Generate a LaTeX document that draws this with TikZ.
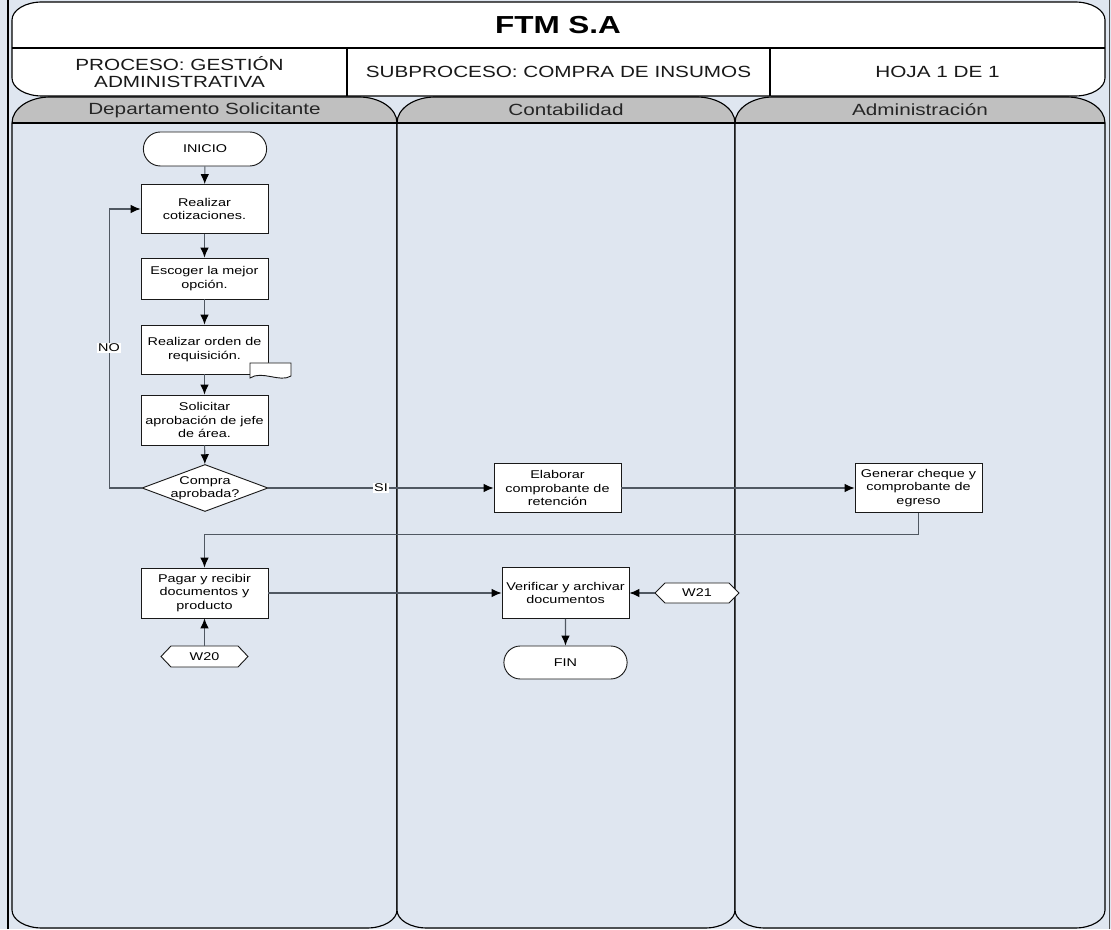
\documentclass[tikz,border=0pt]{standalone}
\usepackage{fontspec}
\setmainfont{Liberation Sans}[FakeStretch=1.28]
\usetikzlibrary{arrows.meta,shapes.misc,shapes.geometric,calc}
\definecolor{bgblue}{RGB}{223,230,240}
\definecolor{bandgray}{RGB}{192,192,192}
\definecolor{linegray}{RGB}{80,88,98}
\newcommand\nfont{\fontsize{8}{9.4}\selectfont}
\newcommand\hfont{\fontsize{11.5}{12.5}\selectfont}
\newcommand\swimlane[4]{%
  \fill[bgblue] (#1,806) arc[start angle=180,end angle=90,x radius=38,y radius=26] -- (#2-38,832) arc[start angle=90,end angle=0,x radius=38,y radius=26] -- (#2,19) arc[start angle=0,end angle=-90,x radius=30,y radius=18] -- (#1+30,1) arc[start angle=270,end angle=180,x radius=30,y radius=18] -- cycle;
  \fill[bandgray] (#1,806) arc[start angle=180,end angle=90,x radius=38,y radius=26] -- (#2-38,832) arc[start angle=90,end angle=0,x radius=38,y radius=26] -- cycle;
  \draw[laneline] (#1,806) -- (#2,806);
  \draw[laneline] (#1,806) arc[start angle=180,end angle=90,x radius=38,y radius=26] -- (#2-38,832) arc[start angle=90,end angle=0,x radius=38,y radius=26] -- (#2,19) arc[start angle=0,end angle=-90,x radius=30,y radius=18] -- (#1+30,1) arc[start angle=270,end angle=180,x radius=30,y radius=18] -- cycle;
  \node[lanelbl] (#3) at ({(#1+#2)/2},819) {#4};
}
\begin{document}
\begin{tikzpicture}[x=0.025cm,y=0.025cm,
  laneline/.style={draw=black,line width=0.8pt},
  lanelbl/.style={font=\hfont,text=black!85,inner sep=0pt},
  hdr/.style={font=\hfont,text=black!90,align=center,inner sep=0pt},
  proc/.style={draw=black!90,fill=white,line width=0.65pt,minimum width=3.175cm,inner sep=1pt,align=center,font=\nfont},
  term/.style={rounded rectangle,draw=black!90,fill=white,line width=0.65pt,minimum width=3.15cm,minimum height=0.85cm,inner sep=1pt,font=\nfont},
  shapeline/.style={draw=black!90,fill=white,line width=0.65pt},
  txt/.style={align=center,font=\nfont,inner sep=0pt},
  hexlbl/.style={font=\nfont,minimum width=2.175cm,minimum height=0.525cm,inner sep=0pt},
  lbl/.style={fill=white,font=\nfont,inner sep=1pt},
  arr/.style={-{Latex[length=7pt,width=6pt,color=black]},draw=linegray,line width=0.75pt}]
\useasboundingbox (0,0) rectangle (1111,929);
\fill[bgblue] (0,0) rectangle (1111,929);
\draw[black,line width=0.9pt] (8,0) -- (8,929);
\draw[black!70,line width=0.6pt] (1109,0) -- (1109,929);
% lanes
\swimlane{12}{397}{l1}{Departamento Solicitante}
\swimlane{397}{735}{l2}{Contabilidad}
\swimlane{735}{1105}{l3}{Administración}
% header
\draw[fill=white,line width=0.8pt] (12,851) -- (12,909) arc[start angle=180,end angle=90,x radius=30,y radius=18] -- (1075,927) arc[start angle=90,end angle=0,x radius=30,y radius=18] -- (1105,851) arc[start angle=0,end angle=-90,x radius=30,y radius=18] -- (42,833) arc[start angle=270,end angle=180,x radius=30,y radius=18] -- cycle;
\draw[line width=0.8pt] (12,881) -- (1105,881);
\draw[line width=0.8pt] (347,881) -- (347,833);
\draw[line width=0.8pt] (770,881) -- (770,833);
\node[font=\bfseries\fontsize{17.5}{20}\selectfont,inner sep=0pt] (title) at (558,904) {FTM S.A};
\node[hdr] (proceso) at (179.5,857) {PROCESO: GESTIÓN\\ADMINISTRATIVA};
\node[hdr] (subproceso) at (558.5,857) {SUBPROCESO: COMPRA DE INSUMOS};
\node[hdr] (hoja) at (937.5,857) {HOJA 1 DE 1};
% nodes
\node[term] (inicio) at (205,780) {INICIO};
\node[proc,minimum height=1.225cm] (cot) at (204.5,720) {Realizar\\cotizaciones.};
\node[proc,minimum height=1.025cm] (esc) at (204.5,650.5) {Escoger la mejor\\opción.};
\node[proc,minimum height=1.225cm] (ord) at (204.5,579.5) {Realizar orden de\\requisición.};
\draw[shapeline] (250,566) -- (291,566) -- (291,553) .. controls (280,546) and (262,559) .. (250,551) -- cycle;
\node[proc,minimum height=1.25cm] (sol) at (204.5,509) {Solicitar\\aprobación de jefe\\de área.};
\node[diamond,shapeline,minimum width=3.15cm,minimum height=1.175cm,aspect=2.68,inner sep=0pt] (dec) at (205,441) {};
\node[txt] (dect) at (dec) {Compra\\aprobada?};
\node[proc,minimum height=1.225cm] (elab) at (557.5,441) {Elaborar\\comprobante de\\retención};
\node[proc,minimum height=1.225cm] (gen) at (918.5,441) {Generar cheque y\\comprobante de\\egreso};
\node[proc,minimum height=1.25cm] (pag) at (204.5,336) {Pagar y recibir\\documentos y\\producto};
\node[proc,minimum height=1.275cm] (ver) at (565.5,336) {Verificar y archivar\\documentos};
\node[term,minimum height=0.825cm] (fin) at (565.5,266.5) {FIN};
\draw[shapeline] (161,272.5) -- (171,283) -- (238,283) -- (248,272.5) -- (238,262) -- (171,262) -- cycle;
\node[hexlbl] (w20) at (204.5,272.5) {W20};
\draw[shapeline] (655,336) -- (665,346) -- (729,346) -- (739,336) -- (729,326) -- (665,326) -- cycle;
\node[hexlbl,minimum width=2.1cm,minimum height=0.5cm] (w21) at (697,336) {W21};
% connectors
\draw[arr] (inicio) -- (cot);
\draw[arr] (cot) -- (esc);
\draw[arr] (esc) -- (ord);
\draw[arr] (ord) -- (sol);
\draw[arr] (sol) -- (dec);
\draw[arr] (dec.west) -- ++(-32,0) |- (cot.west);
\node[lbl] (no) at (109,581) {NO};
\draw[arr] (dec.east) -- node[lbl] (si) {SI} (elab.west);
\draw[arr] (elab) -- (gen);
\draw[arr] (gen.south) -- ++(0,-22) -| (pag.north);
\draw[arr] (pag) -- (ver);
\draw[arr] (w21) -- (ver);
\draw[arr] (w20) -- (pag);
\draw[arr] (ver) -- (fin);
\end{tikzpicture}
\end{document}
